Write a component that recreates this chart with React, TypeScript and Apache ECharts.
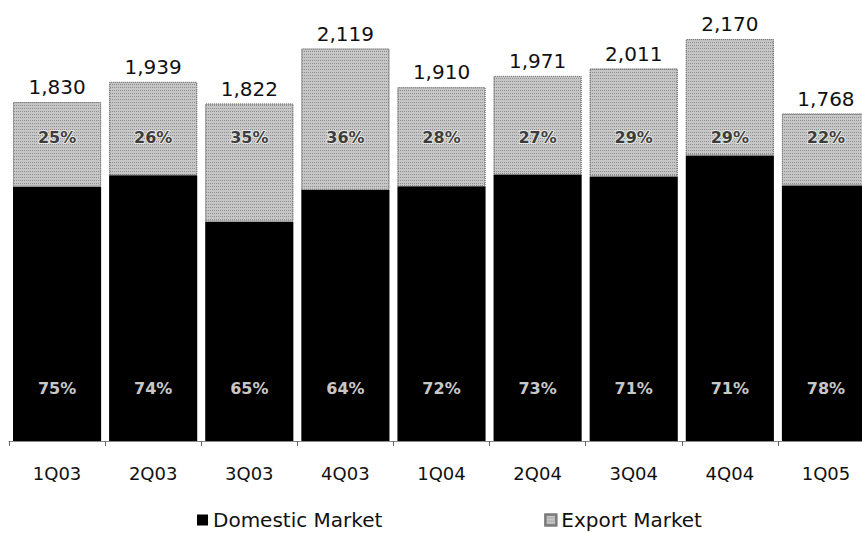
import React, { useEffect, useRef } from "react";
import * as echarts from "echarts";

const categories = ["1Q03", "2Q03", "3Q03", "4Q03", "1Q04", "2Q04", "3Q04", "4Q04", "1Q05"];
const totals = [1830, 1939, 1822, 2119, 1910, 1971, 2011, 2170, 1768];
const domesticPct = [75, 74, 65, 64, 72, 73, 71, 71, 78];
const exportPct = [25, 26, 35, 36, 28, 27, 29, 29, 22];
const seriesNames = ["Domestic Market", "Export Market"];

const FONT = "DejaVu Sans";
const EXPORT_LABEL_LEVEL = 1636;
const DOMESTIC_LABEL_LEVEL = 286;

export default function App() {
  const ref = useRef<HTMLDivElement>(null);

  useEffect(() => {
    if (!ref.current) return;
    const chart = echarts.init(ref.current, undefined, { renderer: "svg" });

    const domestic = totals.map((t, i) => Math.round((t * domesticPct[i]) / 100));
    const exportVals = totals.map((t, i) => t - domestic[i]);

    const option: any = {
      animation: false,
      aria: { enabled: true, decal: { show: true } },
      grid: { left: 9, top: 15, width: 865, height: 426, containLabel: false },
      legend: {
        data: seriesNames,
        left: 192,
        top: 504,
        itemWidth: 11,
        itemHeight: 11,
        itemGap: 162,
        icon: "rect",
        textStyle: { fontFamily: FONT, fontSize: 20, lineHeight: 22, color: "#111" },
      },
      xAxis: {
        type: "category",
        data: categories,
        axisLine: { lineStyle: { color: "#888", width: 1 } },
        axisTick: { show: true, length: 5, lineStyle: { color: "#666" } },
        axisLabel: { fontFamily: FONT, fontSize: 18, color: "#111", margin: 23 },
      },
      yAxis: {
        type: "value",
        min: 0,
        max: 2300,
        show: false,
        splitLine: { show: false },
      },
      series: [
        {
          name: seriesNames[0],
          type: "bar",
          stack: "total",
          data: domestic,
          barCategoryGap: "8.3%",
          itemStyle: { color: "#000", decal: { symbol: "none" } },
        },
        {
          name: seriesNames[1],
          type: "bar",
          stack: "total",
          data: exportVals,
          barCategoryGap: "8.3%",
          itemStyle: {
            color: "#c6c6c6",
            borderColor: "#7a7a7a",
            borderWidth: 1,
            borderType: "dotted",
            decal: {
              symbol: "rect",
              symbolSize: 1,
              color: "rgba(60,60,60,0.4)",
              dashArrayX: [1, 1],
              dashArrayY: [1, 2],
              rotation: 0,
            },
          },
          label: {
            show: true,
            position: "top",
            distance: 5,
            fontFamily: FONT,
            fontSize: 20,
            color: "#111",
            formatter: (p: any) => totals[p.dataIndex].toLocaleString("en-US"),
          },
        },
        {
          name: "exportLabels",
          type: "scatter",
          data: exportPct.map(() => EXPORT_LABEL_LEVEL),
          symbolSize: 0,
          silent: true,
          z: 5,
          itemStyle: { decal: { symbol: "none" } },
          label: {
            show: true,
            position: "inside",
            fontFamily: FONT,
            fontSize: 16,
            fontWeight: "bold",
            color: "#111",
            textBorderColor: "#f0f0f0",
            textBorderWidth: 2,
            formatter: (p: any) => exportPct[p.dataIndex] + "%",
          },
        },
        {
          name: "domesticLabels",
          type: "scatter",
          data: domesticPct.map(() => DOMESTIC_LABEL_LEVEL),
          symbolSize: 0,
          silent: true,
          z: 5,
          itemStyle: { decal: { symbol: "none" } },
          label: {
            show: true,
            position: "inside",
            fontFamily: FONT,
            fontSize: 16,
            fontWeight: "bold",
            color: "#ffffff",
            formatter: (p: any) => domesticPct[p.dataIndex] + "%",
          },
        },
      ],
    };

    chart.setOption(option);
    return () => chart.dispose();
  }, []);

  return (
    <div style={{ position: "absolute", left: 0, top: 0, width: 862, height: 533, overflow: "hidden" }}>
      <div ref={ref} style={{ width: 880, height: 533 }} />
    </div>
  );
}
